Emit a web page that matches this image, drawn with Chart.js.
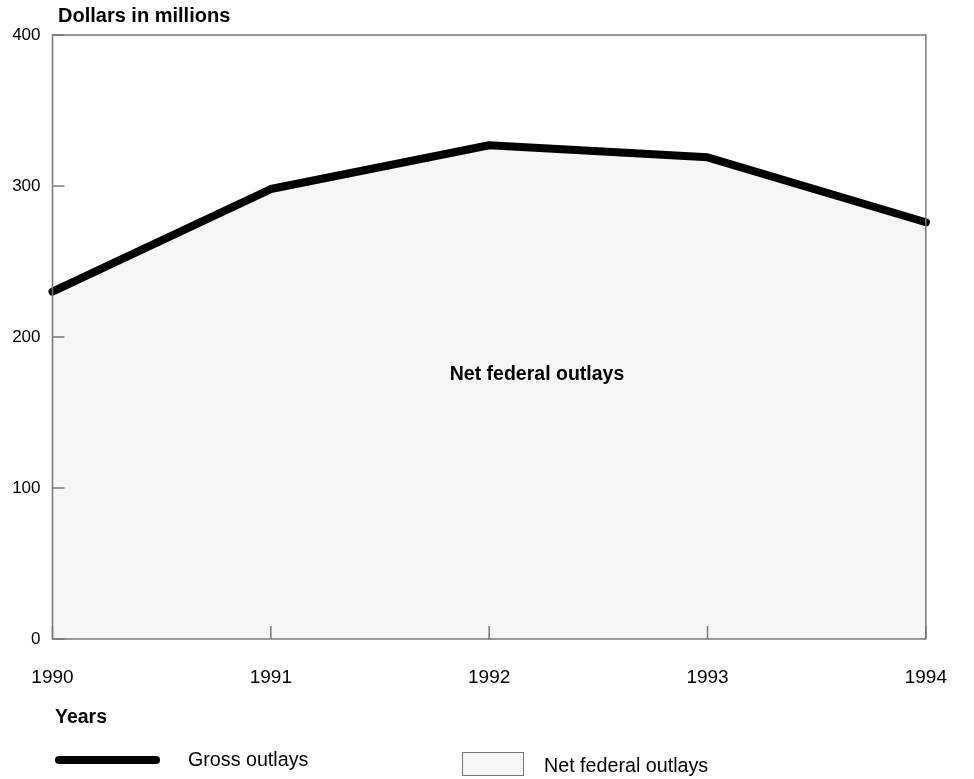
<!DOCTYPE html>
<html lang="en">
<head>
    <meta charset="UTF-8">
    <title>Gross and net federal outlays</title>
    <style>
        html, body {
            margin: 0;
            padding: 0;
            background: #ffffff;
        }
        #wrap {
            width: 974px;
            height: 779px;
            position: relative;
        }
    </style>
</head>
<body>

<div id="wrap">
    <canvas id="outlaysChart"></canvas>
</div>

<script src="https://cdn.jsdelivr.net/npm/chart.js"></script>
<script>
    const years = ['1990', '1991', '1992', '1993', '1994'];
    const grossOutlays = [230, 298, 327, 319, 276];
    const yTicks = [0, 100, 200, 300, 400];

    const FONT = "'Liberation Sans', Arial, sans-serif";
    const AXIS_GRAY = '#777777';
    const FILL_GRAY = '#f6f6f6';

    // frame, inward ticks, titles and the hand-placed legend
    const decorations = {
        id: 'decorations',
        afterDraw(chart) {
            const ctx = chart.ctx;
            const area = chart.chartArea;
            const xs = chart.scales.x;
            const ys = chart.scales.y;
            ctx.save();

            ctx.strokeStyle = AXIS_GRAY;
            ctx.lineWidth = 1.5;
            ctx.strokeRect(area.left, area.top, area.right - area.left, area.bottom - area.top);

            ctx.beginPath();
            yTicks.forEach(v => {
                const y = ys.getPixelForValue(v);
                ctx.moveTo(area.left, y);
                ctx.lineTo(area.left + 12, y);
            });
            years.forEach((_, i) => {
                const x = xs.getPixelForValue(i);
                ctx.moveTo(x, area.bottom);
                ctx.lineTo(x, area.bottom - 13);
            });
            ctx.stroke();

            ctx.fillStyle = '#000000';
            ctx.textBaseline = 'middle';
            ctx.textAlign = 'left';
            ctx.font = 'bold 20px ' + FONT;
            ctx.fillText('Dollars in millions', 58, 16);
            ctx.font = 'bold 19.5px ' + FONT;
            ctx.fillText('Years', 55, 718);

            ctx.textAlign = 'center';
            ctx.font = 'bold 19.5px ' + FONT;
            ctx.fillText('Net federal outlays', 537, 375);

            // legend
            ctx.strokeStyle = '#000000';
            ctx.lineWidth = 8;
            ctx.lineCap = 'round';
            ctx.beginPath();
            ctx.moveTo(59, 760);
            ctx.lineTo(156, 760);
            ctx.stroke();

            ctx.fillStyle = FILL_GRAY;
            ctx.fillRect(462, 752, 61, 23);
            ctx.strokeStyle = AXIS_GRAY;
            ctx.lineWidth = 1;
            ctx.strokeRect(462.5, 752.5, 61, 23);

            ctx.fillStyle = '#000000';
            ctx.textAlign = 'left';
            ctx.font = '19.7px ' + FONT;
            ctx.fillText('Gross outlays', 188, 761);
            ctx.fillText('Net federal outlays', 544, 767);

            ctx.restore();
        }
    };

    const ctx = document.getElementById('outlaysChart').getContext('2d');
    new Chart(ctx, {
        type: 'line',
        data: {
            labels: years,
            datasets: [{
                label: 'Gross outlays',
                data: grossOutlays,
                borderColor: '#000000',
                borderWidth: 8,
                borderCapStyle: 'round',
                borderJoinStyle: 'round',
                backgroundColor: FILL_GRAY,
                fill: 'origin',
                pointRadius: 0,
                tension: 0,
                clip: false
            }]
        },
        options: {
            responsive: true,
            maintainAspectRatio: false,
            animation: false,
            layout: {
                padding: { top: 35, right: 46.5, bottom: 0, left: 0 }
            },
            plugins: {
                legend: { display: false },
                tooltip: { enabled: false }
            },
            scales: {
                x: {
                    grid: { display: false, drawTicks: false },
                    border: { display: false },
                    ticks: {
                        color: '#000000',
                        font: { family: FONT, size: 19 },
                        padding: 27,
                        maxRotation: 0,
                        autoSkip: false
                    },
                    afterFit(scale) { scale.height = 140; }
                },
                y: {
                    min: 0,
                    max: 400,
                    grid: { display: false, drawTicks: false },
                    border: { display: false },
                    afterBuildTicks(scale) {
                        scale.ticks = yTicks.map(v => ({ value: v }));
                    },
                    ticks: {
                        color: '#000000',
                        font: { family: FONT, size: 17 },
                        padding: 12
                    },
                    afterFit(scale) { scale.width = 52.5; }
                }
            }
        },
        plugins: [decorations]
    });
</script>

</body>
</html>
